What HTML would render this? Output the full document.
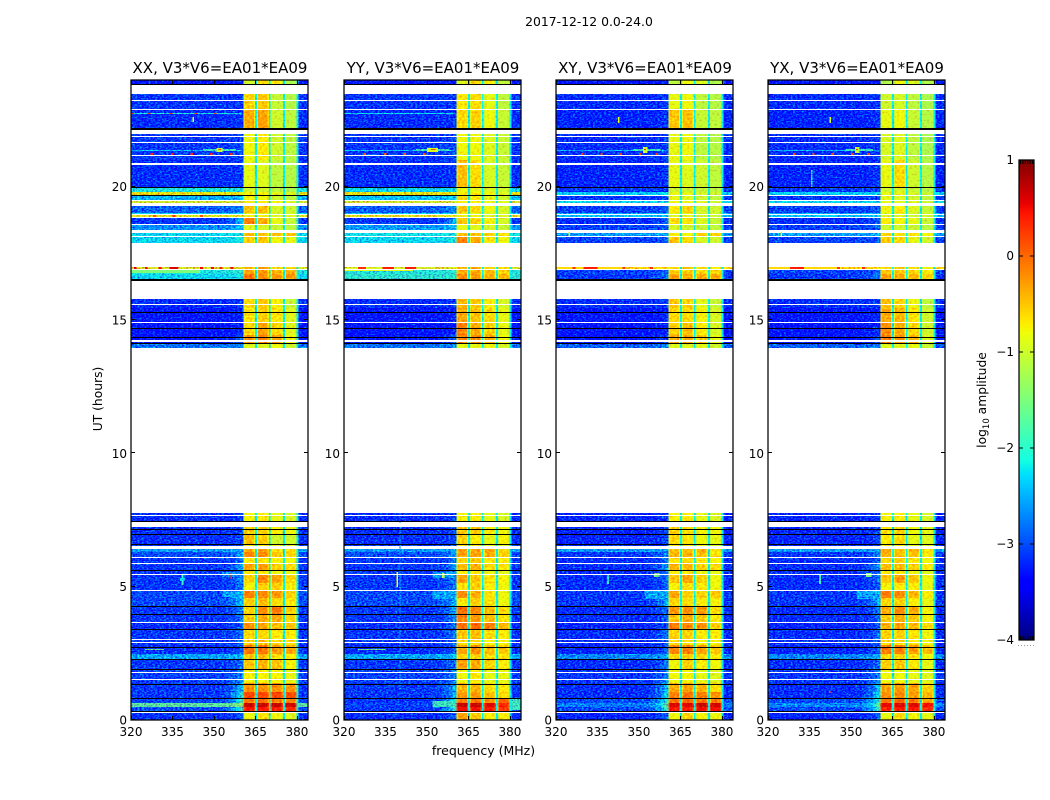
<!DOCTYPE html>
<html lang="en">
<head>
<meta charset="utf-8">
<title>2017-12-12 amplitude waterfall</title>
<style>
html,body{margin:0;padding:0;background:#fff;}
svg{display:block;font-family:"DejaVu Sans","Liberation Sans",sans-serif;fill:#000;}
</style>
</head>
<body>
<svg id="figure" xmlns="http://www.w3.org/2000/svg" width="1050" height="800" viewBox="0 0 1050 800">
  <defs>
    <filter id="grain-strong" filterUnits="userSpaceOnUse" x="0" y="0" width="1050" height="800" color-interpolation-filters="sRGB">
      <feTurbulence type="fractalNoise" baseFrequency="0.45 0.7" numOctaves="2" seed="4" result="n"/>
      <feColorMatrix in="n" type="matrix" values="0 0 0 0 .5625  1 0 0 0 0  0 0 0 0 .5625  0 0 0 0 1" result="g"/>
      <feComposite in="SourceGraphic" in2="g" operator="arithmetic" k1="0" k2="1" k3="1.6" k4="-.9" result="m"/>
      <feComposite in="m" in2="SourceAlpha" operator="in"/>
    </filter>
    <filter id="grain-soft" filterUnits="userSpaceOnUse" x="0" y="0" width="1050" height="800" color-interpolation-filters="sRGB">
      <feTurbulence type="fractalNoise" baseFrequency="0.4 0.5" numOctaves="1" seed="9" result="n"/>
      <feColorMatrix in="n" type="matrix" values="0 0 0 0 .5  1 0 0 0 0  0 0 0 0 .5  0 0 0 0 1" result="g"/>
      <feComposite in="SourceGraphic" in2="g" operator="arithmetic" k1="0" k2="1" k3=".7" k4="-.35" result="m"/>
      <feComposite in="m" in2="SourceAlpha" operator="in"/>
    </filter>
  </defs>
  <rect x="0" y="0" width="1050" height="800" fill="#fff"/>
  <text x="589" y="26" font-size="12.4" text-anchor="middle">2017-12-12 0.0-24.0</text>
  <text x="0" y="0" font-size="12.3" text-anchor="middle" transform="translate(102,399) rotate(-90)">UT (hours)</text>
  <text x="483.5" y="755" font-size="12.5" text-anchor="middle">frequency (MHz)</text>
  <text x="0" y="0" font-size="12.3" text-anchor="middle" transform="translate(986,400) rotate(-90)">log<tspan font-size="8.5" dy="3">10</tspan><tspan dy="-3"> amplitude</tspan></text>
  <g id="panels"></g>
  <g id="colorbar"></g>
</svg>
<script>
// ---- axis data ----
const freqTicks = [320, 335, 350, 365, 380];
const hourTicks = [0, 5, 10, 15, 20];
const colorTicks = [-4, -3, -2, -1, 0, 1];
// Time samples: 640 rows across 24 h. Each span is [first sample, end sample].
const timeSpans = [
[636,640],[610,626],[592,610],[560,586],[533,560],[528,532],[525,528],[520,524],[517,519],[507,514],[506,507],
[503,505],[496,502],[490,495],[484,487],[477,483],[451,453],[446,451],[441,446],[412,422],[397,412],[385,397],
[376,385],[372,376],
[198,207],[186,193],[176,186],[174,176],[168,171],[163,168],[157,163],[150,157],[146,150],[137,146],[130,137],
[122,130],[114,122],[106,114],[98,106],[90,98],[81,90],[75,81],[66,75],[61,66],[51,61],[37,51],[28,37],[22,28],
[17,22],[13,17],[8,13],[0,8]
];
// log10 amplitude per span: background, pre-band shoulder, then the four bright sub-bands.
const levelsXX = [
[-3.2,-3.2,-1,-.6,-.7,-1.2],[-3,-3,-.55,-.5,-1.05,-1.15],[-3.05,-3,-.35,-.3,-1,-1.1],[-3,-2.9,-.8,-.7,-1,-1.1],
[-3.05,-3,-.85,-.9,-1.1,-1.15],[-2.1,-2.1,-1,-1,-1.1,-1.2],[-.85,-.85,-.75,-.75,-.85,-.9],[-2.4,-2.3,-.75,-.8,-1,-1.1],
[-1,-1,-.7,-.7,-.8,-.9],[-2.8,-2.6,-.5,-.45,-.95,-1],[-2.2,-2.2,-.9,-.9,-1,-1],[-.9,-.9,-.8,-.8,-.9,-.9],
[-3,-2.3,-.1,-.35,-.85,-1.05],[-2.55,-2.3,-.9,-.95,-1.05,-1.1],[-2.2,-2.1,-.45,-.5,-.45,-.5],[-2.2,-2.1,-.55,-.5,-.8,-.85],
[-.95,-.9,-.4,-.25,-.55,-.6],[-2.1,-2,-.3,-.25,-.4,-.35],[-2.2,-2.1,-.05,-.2,-.25,-.25],[-3.05,-3,-.6,-.5,-.75,-1.05],
[-3.2,-3.1,-.65,-.55,-.65,-.9],[-3.2,-3.1,-.6,-.3,-.6,-.9],[-3.2,-2.8,-.2,-.15,-.3,-.8],[-2.7,-2.6,-.9,-.9,-.8,-1],
[-3.05,-3,-.75,-.7,-.85,-.95],[-3.05,-2.9,-.55,-.55,-.7,-.8],[-3.05,-2.9,-.45,-.55,-1,-1],[-3,-2.9,-.7,-.7,-.8,-.9],
[-2.5,-2.5,-.35,-.3,-.65,-.6],[-2.9,-2.4,-.15,-.15,-.5,-.6],[-3,-2.7,-.7,-.65,-.75,-.8],[-3,-2.4,-.3,-.3,-.55,-.6],
[-3,-2.6,-.7,-.7,-.8,-.85],[-3,-2.6,-.55,-.15,-.3,-.6],[-3,-2.7,-.75,-.55,-.55,-.75],[-2.9,-2.2,-.1,-.15,-.25,-.55],
[-2.9,-2.3,-.55,-.45,-.6,-.7],[-3,-2.6,-.55,-.2,-.1,-.55],[-3,-2.7,-.5,-.35,-.35,-.6],[-3.05,-2.8,-.2,-.3,-.45,-.5],
[-3,-2.7,-.6,-.6,-.7,-.7],[-3,-2.8,-.55,-.45,-.6,-.65],[-3.05,-2.8,-.05,-.05,-.25,-.35],[-2.45,-2.3,-.5,-.45,-.65,-.7],
[-3,-2.7,-.5,-.4,-.5,-.75],[-2.95,-2.6,-.75,-.75,-.75,-.85],[-3,-2.3,-.2,-.2,-.2,-.25],[-3,-2,.2,.2,.2,.15],
[-2.95,-1.8,-.05,-.05,-.1,-.15],[-1.7,-1.4,.7,.7,.7,.65],[-2.9,-1.9,.45,.45,.4,.35],[-3.05,-2.8,-.8,-.65,-.8,-.9]
];
const levelsYY = [
[-3.2,-3.2,-.9,-.6,-.7,-1.1],[-3,-3,-.7,-.6,-.85,-1.1],[-3.05,-3,-.6,-.55,-.8,-1.05],[-3,-2.9,-.8,-.8,-.9,-1.05],
[-3.05,-3,-.45,-.6,-.95,-1.05],[-2.2,-2.2,-.8,-.85,-.9,-1],[-.85,-.85,-.7,-.7,-.8,-.9],[-2.3,-2.3,-.6,-.7,-.85,-1],
[-1,-1,-.7,-.7,-.8,-.9],[-2.8,-2.6,-.5,-.6,-.8,-.95],[-2.2,-2.2,-.85,-.9,-.95,-1],[-.9,-.9,-.8,-.8,-.9,-.9],
[-3,-2.4,-.5,-.55,-.75,-.95],[-2.5,-2.3,-.85,-.9,-.95,-1.05],[-2.15,-2.1,-.45,-.5,-.55,-.6],[-2.2,-2.1,-.15,-.35,-.65,-.8],
[-.95,-.9,-.4,-.35,-.55,-.6],[-2.05,-2,-.35,-.35,-.45,-.55],[-2,-2,-.2,-.25,-.35,-.4],[-3.05,-3,-.4,-.5,-.7,-.95],
[-3.2,-3.1,-.35,-.45,-.6,-.85],[-3.2,-3.1,-.15,-.35,-.55,-.85],[-3.2,-2.8,-.15,-.2,-.35,-.8],[-2.7,-2.6,-.85,-.85,-.8,-.95],
[-3.05,-3,-.75,-.7,-.85,-.95],[-3.05,-2.9,-.5,-.5,-.7,-.8],[-3.05,-2.9,-.55,-.7,-.85,-.75],[-3,-2.9,-.7,-.7,-.8,-.9],
[-2.5,-2.5,-.3,-.3,-.3,-.55],[-2.9,-2.5,-.3,-.3,-.35,-.55],[-3,-2.7,-.6,-.5,-.65,-.7],[-3,-2.5,-.45,-.35,-.6,-.65],
[-3,-2.6,-.7,-.7,-.8,-.85],[-3,-2.6,-.3,-.5,-.65,-.75],[-3,-2.7,-.65,-.55,-.7,-.8],[-2.9,-2.3,-.2,-.35,-.65,-.8],
[-2.9,-2.4,-.7,-.55,-.65,-.8],[-3,-2.4,-.05,-.15,-.45,-.6],[-3,-2.6,-.15,-.25,-.45,-.65],[-3.05,-2.7,-.05,0,-.1,-.4],
[-3,-2.7,-.5,-.45,-.6,-.7],[-3,-2.8,-.65,-.6,-.75,-.75],[-3.05,-2.8,-.35,-.2,-.45,-.5],[-2.45,-2.3,-.55,-.55,-.6,-.65],
[-3,-2.7,-.3,-.35,-.55,-.7],[-2.95,-2.6,-.8,-.7,-.85,-.85],[-3,-2.4,-.4,-.4,-.6,-.7],[-3,-2.4,-.25,-.25,-.45,-.6],
[-3,-2.1,-.1,-.05,-.2,.05],[-2.95,-1.9,.7,.7,.6,.35],[-3,-2,.5,.5,.45,.25],[-3.05,-2.8,-.3,-.5,-.7,-.7]
];
const levelsXY = [
[-3.2,-3.2,-1.1,-.8,-.9,-1.2],[-3.05,-3,-.85,-.8,-1.1,-1.15],[-3.1,-3,-.5,-.45,-1.05,-1.1],[-3.05,-2.95,-.85,-.8,-1.1,-1.15],
[-3.1,-3,-.85,-.9,-1,-1.1],[-3,-3,-1,-1,-1.05,-1.1],[-2.25,-2.2,-.85,-.85,-.95,-1],[-3,-2.9,-.85,-.9,-1,-1.1],
[-2.2,-2.2,-.8,-.8,-.9,-1],[-2.95,-2.8,-.7,-.55,-.95,-1],[-2.4,-2.4,-.9,-.9,-1,-1],[-2.3,-2.3,-.9,-.9,-1,-1],
[-3.05,-2.8,-.6,-.65,-.9,-1.05],[-2.95,-2.8,-.95,-1,-1.05,-1.1],[-2.5,-2.4,-.75,-.75,-.5,-.55],[-2.95,-2.8,-.5,-.6,-.95,-1],
[-.7,-.7,-.6,-.45,-.6,-.7],[-2.95,-2.8,-.55,-.55,-.6,-.55],[-3,-2.6,-.3,-.35,-.35,-.35],[-3.05,-3,-.5,-.55,-.85,-1.05],
[-3.2,-3.1,-.6,-.6,-.75,-.95],[-3.2,-3.1,-.55,-.45,-.7,-.95],[-3.2,-2.9,-.35,-.35,-.5,-.85],[-2.8,-2.6,-.9,-.9,-.85,-1],
[-3.1,-3,-.75,-.7,-.85,-.95],[-3.1,-2.9,-.55,-.6,-.75,-.8],[-3.1,-2.9,-.6,-.65,-.8,-.85],[-3.05,-2.9,-.7,-.7,-.8,-.9],
[-2.5,-2.5,-.5,-.45,-.35,-.65],[-3,-2.6,-.4,-.4,-.45,-.65],[-3.05,-2.8,-.65,-.6,-.7,-.75],[-3.05,-2.5,-.4,-.4,-.55,-.6],
[-3.05,-2.7,-.7,-.7,-.8,-.85],[-3.05,-2.7,-.5,-.3,-.55,-.8],[-3.05,-2.8,-.75,-.65,-.7,-.8],[-3,-2.3,-.3,-.55,-.55,-.5],
[-3,-2.4,-.6,-.6,-.7,-.75],[-3.05,-2.7,-.25,-.2,-.25,-.6],[-3.05,-2.8,-.5,-.35,-.5,-.7],[-3.1,-2.8,-.1,-.15,-.2,-.55],
[-3.05,-2.7,-.55,-.55,-.7,-.7],[-3.05,-2.8,-.6,-.65,-.75,-.75],[-3.1,-2.8,-.15,-.1,-.3,-.5],[-2.6,-2.4,-.6,-.55,-.6,-.7],
[-3.05,-2.7,-.8,-.55,-.7,-.8],[-3,-2.6,-.8,-.75,-.85,-.9],[-3.05,-2.3,-.35,-.3,-.4,-.6],[-3.05,-2.2,-.1,-.05,-.1,-.2],
[-2.9,-2,-.05,0,-.05,-.1],[-2.65,-1.7,.6,.6,.7,.65],[-2.9,-1.9,.45,.45,.5,.5],[-3.1,-2.8,-.8,-.55,-.75,-.8]
];
const levelsYX = [
[-3.2,-3.2,-1.2,-.8,-.9,-1.2],[-3.05,-3,-1,-.95,-1.1,-1.2],[-3.1,-3,-.85,-.8,-1.05,-1.15],[-3.05,-2.95,-.95,-.9,-1.1,-1.2],
[-3.1,-3,-.85,-.6,-1,-1.15],[-3,-3,-1,-.95,-1.05,-1.15],[-2.25,-2.2,-.85,-.85,-.95,-1.05],[-3,-2.9,-.85,-.9,-1,-1.1],
[-2.2,-2.2,-.85,-.85,-.9,-1],[-2.95,-2.8,-.8,-.7,-.9,-1.05],[-2.4,-2.4,-.9,-.9,-1,-1],[-2.3,-2.3,-.9,-.9,-1,-1],
[-3.05,-2.8,-.7,-.75,-.85,-1.05],[-2.95,-2.8,-1,-1,-1.05,-1.15],[-2.5,-2.4,-.6,-.65,-.65,-.75],[-2.95,-2.8,-.55,-.6,-.85,-1],
[-.7,-.7,-.6,-.5,-.6,-.75],[-2.95,-2.8,-.5,-.5,-.6,-.7],[-3,-2.6,-.3,-.35,-.4,-.55],[-3.05,-3,-.45,-.55,-.8,-1.1],
[-3.2,-3.1,-.35,-.4,-.65,-1],[-3.2,-3.1,-.2,-.35,-.6,-1],[-3.2,-2.9,-.1,-.25,-.4,-.9],[-2.8,-2.6,-.9,-.9,-.85,-1.05],
[-3.1,-3,-.75,-.7,-.85,-.95],[-3.1,-2.9,-.65,-.55,-.8,-.85],[-3.1,-2.9,-.7,-.6,-.85,-.9],[-3.05,-2.9,-.7,-.7,-.8,-.9],
[-2.5,-2.5,-.35,-.5,-.4,-.65],[-3,-2.6,-.4,-.45,-.45,-.7],[-3.05,-2.8,-.6,-.55,-.65,-.8],[-3.05,-2.5,-.45,-.45,-.55,-.7],
[-3.05,-2.7,-.7,-.7,-.8,-.9],[-3.05,-2.7,-.5,-.25,-.5,-.8],[-3.05,-2.8,-.75,-.7,-.7,-.85],[-3,-2.3,-.1,-.15,-.4,-.7],
[-3,-2.4,-.6,-.55,-.7,-.85],[-3.05,-2.7,-.35,-.2,-.35,-.75],[-3.05,-2.8,-.5,-.35,-.5,-.75],[-3.1,-2.8,-.4,-.3,-.4,-.6],
[-3.05,-2.7,-.55,-.55,-.65,-.8],[-3.05,-2.8,-.6,-.6,-.7,-.8],[-3.1,-2.8,-.1,-.1,-.25,-.45],[-2.6,-2.4,-.6,-.6,-.65,-.8],
[-3.05,-2.7,-.55,-.5,-.7,-.85],[-3,-2.6,-.8,-.8,-.85,-.9],[-3.05,-2.3,-.3,-.25,-.3,-.55],[-3.05,-2.2,-.2,-.15,-.25,-.4],
[-2.9,-2,-.05,0,-.05,-.3],[-2.6,-1.7,.55,.6,.6,.5],[-2.9,-1.9,.4,.45,.45,.35],[-3.1,-2.8,-.85,-.6,-.75,-.85]
];
// Flagged samples: white means no data, black means a zero-valued integration.
const whiteRows = [619,610,583,577,564,555,556,519,505,502,495,450,421,415,397,378,379,204,196,195,194,193,162,156,145,129,97,80,77,47,40,7];
const blackRowsParallel = [635,590,591,532,524,439,440,407,391,382,376,198,190,185,175,149,113,105,90,72,60,50,35,21,8];
const blackRowsCross = [635,590,591,532,439,440,407,391,382,376,198,190,185,175,149,113,105,90,72,60,50,35,21,8];
// Isolated interference features: [start MHz, end MHz, first sample, end sample, log10 amplitude]
const spotsXX = [
[320,360,606,607,-2.1],[320.3,321,606,607,.4],[326,327,606,607,.3],[334,335,606,607,.3],[343,344,606,607,.2],[350,351,606,607,.3],
[342.3,342.7,598,603,-1],[320,360,569,570,-2.3],[346,358,569,571,-1.9],[351,353,568,572,-1],[351.6,352.6,570,571,.3],
[327,327.9,564,567,.4],[334.4,335.3,564,567,.4],[341.6,342.5,564,567,.4],[348.6,349.5,564,567,.4],[355.8,356.7,564,567,.4],
[328,329,503,505,.1],[335,336,503,505,.3],[345,346,503,505,.1],
[321,322,451,453,.6],[325,326,451,453,.5],[330,331,451,453,.5],[334,337,451,453,.6],[345,346,451,453,.5],[349,350,451,453,.5],[352,353,451,453,.4],[356,357,451,453,.5],
[320,345,447,450,-1.5],[338.3,339,135,146,-1.9],[337.8,339.6,139,142,-2.2],[353,360,123,130,-2.45],[353,360,143,148,-2.55],[356,356.6,141,147,.3],
[325,332,70,71,-1.6]
];
const spotsYY = [
[320,360,606,607,-2.2],[320,360,569,570,-2.3],[346,358,569,571,-1.9],[350,354,568,572,-.9],[351.5,353,570,571,.2],
[327,327.9,564,567,.1],[334.4,335.3,564,567,.1],[341.6,342.5,564,567,.1],[348.6,349.5,564,567,.1],
[320,345,449,452,-.9],[334,338,451,453,.4],[342,346,451,453,.4],[325,328,451,453,.3],[340,340.4,30,207,-2.55],
[339,339.5,133,148,-.8],[355.4,356.4,142,147,-1.1],[352,360,142,148,-2.5],[352,360,121,130,-2.45],[352,360,13,19,-1.9],[380.5,384,10,22,-1.9],
[325,335,70,71,-1.6]
];
const spotsXY = [
[320,360,569,570,-2.4],[348,358,569,571,-1.9],[351.5,353,567,573,-1],[351.8,352.6,570,571,.4],
[329,329.9,564,567,.3],[336,336.9,564,567,.3],[343,343.9,564,567,.3],[350,350.9,564,567,.3],[356,356.9,564,567,.3],
[342.5,342.9,597,603,-.8],[324.5,325,484,488,-1],
[320,384,450,451,-2.1],[320,345,451,453,-.6],[330,335,451,453,.4],[326,327,451,453,.3],[344,345,451,453,.3],[354,355,451,453,.3],
[338.5,339.2,136,146,-2],[355.5,357.5,143,147,-1.6],[352,360,121,130,-2.45],[342,342.6,60,62,.2],[342,342.6,27,29,.1]
];
const spotsYX = [
[320,360,569,570,-2.4],[348,358,569,571,-1.9],[351.5,353,567,573,-1.1],[351.8,352.6,570,571,.3],
[329,329.9,564,567,.2],[336,336.9,564,567,.2],[343,343.9,564,567,.2],[350,350.9,564,567,.2],[356,356.9,564,567,.2],
[335.5,336,533,550,-2.1],[342.3,342.7,597,603,-.9],[324.5,325,484,488,-1],
[320,384,450,451,-2.1],[320,345,451,453,-.6],[328,333,451,453,.4],[345,346,451,453,.3],[354,355,451,453,.3],
[338.5,339.2,136,146,-1.9],[355.5,357.5,143,147,-1.5],[352,360,121,130,-2.45],[342,342.6,60,62,.2],[342,342.6,27,29,.1]
];
// Panels
const panelTitles = ['XX, V3*V6=EA01*EA09','YY, V3*V6=EA01*EA09','XY, V3*V6=EA01*EA09','YX, V3*V6=EA01*EA09'];
const panelKeys = ['xx','yy','xy','yx'];
const panelLevels = [levelsXX, levelsYY, levelsXY, levelsYX];
const panelSpots = [spotsXX, spotsYY, spotsXY, spotsYX];
const panelBlack = [blackRowsParallel, blackRowsParallel, blackRowsCross, blackRowsCross];
const panelLefts = [131, 344, 556, 768];

// ---- layout ----
const SVGNS = 'http://www.w3.org/2000/svg';
const axisTop = 80, axisBottom = 720, axisWidth = 177;
const freqMin = 320, freqMax = 384, hoursMax = 24, samplesPerDay = 640;
const colorMin = -4, colorMax = 1;
const barLeft = 1019, barWidth = 15, barTop = 160, barBottom = 640;

function xScale(left, mhz) { return left + (mhz - freqMin) / (freqMax - freqMin) * axisWidth; }
function yScale(hour) { return axisBottom - hour / hoursMax * (axisBottom - axisTop); }
function sampleHour(sample) { return sample * hoursMax / samplesPerDay; }
function barScale(level) { return barBottom - (level - colorMin) / (colorMax - colorMin) * (barBottom - barTop); }

function jet(level) {
  const n = Math.max(0, Math.min(1, (level - colorMin) / (colorMax - colorMin)));
  const ch = (a) => Math.round(255 * Math.max(0, Math.min(1, a)));
  const r = n < .35 ? 0 : n < .66 ? (n - .35) / .31 : n < .89 ? 1 : 1 - (n - .89) / .11 * .5;
  const g = n < .125 ? 0 : n < .375 ? (n - .125) / .25 : n < .64 ? 1 : n < .91 ? 1 - (n - .64) / .27 : 0;
  const b = n < .11 ? .5 + n / .11 * .5 : n < .34 ? 1 : n < .65 ? 1 - (n - .34) / .31 : 0;
  return 'rgb(' + ch(r) + ',' + ch(g) + ',' + ch(b) + ')';
}

function drawCell(parent, x0, x1, y0, y1, fill) {
  const el = document.createElementNS(SVGNS, 'rect');
  
  
  el.setAttribute('x', x0.toFixed(2));
  el.setAttribute('y', y0.toFixed(2));
  el.setAttribute('width', (x1 - x0).toFixed(2));
  el.setAttribute('height', (y1 - y0).toFixed(2));
  el.setAttribute('fill', fill);
  el.setAttribute('shape-rendering', 'crispEdges');
  parent.appendChild(el);
}

function drawTickLine(parent, x1, y1, x2, y2) {
  const el = document.createElementNS(SVGNS, 'line');
  
  
  el.setAttribute('x1', x1);
  el.setAttribute('y1', y1);
  el.setAttribute('x2', x2);
  el.setAttribute('y2', y2);
  el.setAttribute('stroke', '#000');
  el.setAttribute('stroke-width', '1');
  parent.appendChild(el);
}

function drawLabel(parent, x, y, anchor, text) {
  const el = document.createElementNS(SVGNS, 'text');
  
  
  el.setAttribute('x', x);
  el.setAttribute('y', y);
  el.setAttribute('font-size', '12');
  el.setAttribute('text-anchor', anchor);
  el.textContent = text;
  parent.appendChild(el);
}

function makeLayer(parent, name, filterId) {
  const el = document.createElementNS(SVGNS, 'g');
  
  
  if (filterId) el.setAttribute('filter', 'url(#' + filterId + ')');
  parent.appendChild(el);
  return el;
}

const spws = [[360.6,364.9],[365.5,369.9],[370.5,375],[375.6,379.9]];
const gapLevel = -2.2;
const edgeWidth = .5;

function drawSpan(gBg, gBand, left, span, lv) {
  const y0 = yScale(sampleHour(span[1]));
  const y1 = yScale(sampleHour(span[0]));
  const bg = lv[0], sh = lv[1];
  drawCell(gBg, xScale(left, 320), xScale(left, 352), y0, y1, jet(bg));
  const steps = [352, 354, 356, 358, 359.3, 360.6];
  for (let i = 0; i < steps.length - 1; i++) {
    const k = (i + 1) / (steps.length - 1);
    drawCell(gBg, xScale(left, steps[i]), xScale(left, steps[i + 1]), y0, y1, jet(bg + (sh - bg) * k * k));
  }
  spws.forEach((s, i) => {
    const level = lv[2 + i];
    const edge = Math.min(level, Math.max(level - .35, -1.05));
    drawCell(gBand, xScale(left, s[0]), xScale(left, s[0] + edgeWidth), y0, y1, jet(edge));
    drawCell(gBand, xScale(left, s[0] + edgeWidth), xScale(left, s[1] - edgeWidth), y0, y1, jet(level));
    drawCell(gBand, xScale(left, s[1] - edgeWidth), xScale(left, s[1]), y0, y1, jet(edge));
    const next = i < 3 ? spws[i + 1][0] : 380.5;
    drawCell(gBand, xScale(left, s[1]), xScale(left, next), y0, y1, jet(gapLevel));
  });
  drawCell(gBg, xScale(left, 380.5), xScale(left, 384), y0, y1, jet(bg));
}

const panelsRoot = document.getElementById('panels');
panelLefts.forEach((left, p) => {
  const g = makeLayer(panelsRoot, 'panel-' + panelKeys[p], null);
  const gBg = makeLayer(g, 'background-cells', 'grain-strong');
  const gBand = makeLayer(g, 'band-cells', 'grain-soft');
  const gMarks = makeLayer(g, 'interference-and-flags', null);

  timeSpans.forEach((span, i) => drawSpan(gBg, gBand, left, span, panelLevels[p][i]));

  panelSpots[p].forEach(s => {
    const layer = s[4] < -1.5 ? gBg : gMarks;
    drawCell(layer, xScale(left, s[0]), xScale(left, s[1]), yScale(sampleHour(s[3])), yScale(sampleHour(s[2])), jet(s[4]));
  });

  const fullLeft = xScale(left, freqMin), fullRight = xScale(left, freqMax);
  whiteRows.forEach(r => {
    drawCell(gMarks, fullLeft, fullRight, yScale(sampleHour(r + 1)), yScale(sampleHour(r)), '#fff');
  });
  panelBlack[p].forEach(r => {
    drawCell(gMarks, fullLeft, fullRight, yScale(sampleHour(r + 1)), yScale(sampleHour(r)), '#000');
  });

  const frame = document.createElementNS(SVGNS, 'rect');
  
  
  frame.setAttribute('x', left);
  frame.setAttribute('y', axisTop);
  frame.setAttribute('width', axisWidth);
  frame.setAttribute('height', axisBottom - axisTop);
  frame.setAttribute('fill', 'none');
  frame.setAttribute('stroke', '#000');
  frame.setAttribute('stroke-width', '1.25');
  g.appendChild(frame);

  freqTicks.forEach(f => {
    const x = Math.round(xScale(left, f)) + .5;
    drawTickLine(g, x, axisBottom, x, axisBottom - 4);
    drawTickLine(g, x, axisTop, x, axisTop + 4);
    drawLabel(g, xScale(left, f), 736, 'middle', String(f));
  });
  hourTicks.forEach(h => {
    const y = Math.round(yScale(h)) - .5;
    drawTickLine(g, left, y, left + 4, y);
    drawTickLine(g, left + axisWidth, y, left + axisWidth - 4, y);
    drawLabel(g, left - 4, yScale(h) + 4.5, 'end', String(h));
  });

  const title = document.createElementNS(SVGNS, 'text');
  
  
  title.setAttribute('x', left + axisWidth / 2 + .5);
  title.setAttribute('y', 73);
  title.setAttribute('font-size', '15');
  title.setAttribute('text-anchor', 'middle');
  title.textContent = panelTitles[p];
  g.appendChild(title);
});

// ---- colorbar ----
const barRoot = document.getElementById('colorbar');
for (let y = barTop; y < barBottom; y += 2) {
  const el = document.createElementNS(SVGNS, 'rect');
  
  
  el.setAttribute('x', barLeft);
  el.setAttribute('y', y);
  el.setAttribute('width', barWidth);
  el.setAttribute('height', 2);
  el.setAttribute('fill', jet(colorMin + (barBottom - y - 1) / (barBottom - barTop) * (colorMax - colorMin)));
  el.setAttribute('shape-rendering', 'crispEdges');
  barRoot.appendChild(el);
}
const barFrame = document.createElementNS(SVGNS, 'rect');


barFrame.setAttribute('x', barLeft);
barFrame.setAttribute('y', barTop);
barFrame.setAttribute('width', barWidth);
barFrame.setAttribute('height', barBottom - barTop);
barFrame.setAttribute('fill', 'none');
barFrame.setAttribute('stroke', '#000');
barFrame.setAttribute('stroke-width', '1.25');
barRoot.appendChild(barFrame);
colorTicks.forEach(c => {
  const y = barScale(c);
  drawTickLine(barRoot, barLeft, y, barLeft + 4, y);
  drawTickLine(barRoot, barLeft + barWidth, y, barLeft + barWidth - 4, y);
  drawLabel(barRoot, barLeft - 5, y + 4, 'end', String(c).replace('-', '\u2212'));
});
for (let i = 0; i < 6; i++) {
  const x = barLeft + 1.5 + i * 2.4;
  drawTickLine(barRoot, x, barTop, x, barTop + 4);
  drawTickLine(barRoot, x, barBottom, x, barBottom - 4);
  const dot = document.createElementNS(SVGNS, 'rect');
  
  
  dot.setAttribute('x', barLeft - 1 + i * 3);
  dot.setAttribute('y', 645);
  dot.setAttribute('width', 1);
  dot.setAttribute('height', 1);
  dot.setAttribute('fill', '#999');
  barRoot.appendChild(dot);
}
</script>
</body>
</html>
